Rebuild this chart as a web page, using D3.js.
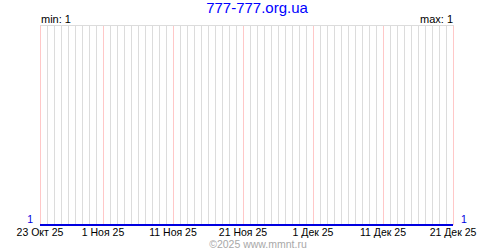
<!DOCTYPE html>
<html>
<head>
<meta charset="utf-8">
<script src="https://cdn.jsdelivr.net/npm/d3@7"></script>
<style>
  body { margin: 0; background: #fff; }
  svg { display: block; font-family: "Liberation Sans", Arial, sans-serif; }
</style>
</head>
<body>
<svg id="chart" width="500" height="250"></svg>
<script>
// period shown (one point a day)
const startDate = "2025-10-23";
const endDate = "2025-12-21";
const dayValues = [
  1, 1, 1, 1, 1, 1, 1, 1, 1, 1,
  1, 1, 1, 1, 1, 1, 1, 1, 1, 1,
  1, 1, 1, 1, 1, 1, 1, 1, 1, 1,
  1, 1, 1, 1, 1, 1, 1, 1, 1, 1,
  1, 1, 1, 1, 1, 1, 1, 1, 1, 1,
  1, 1, 1, 1, 1, 1, 1, 1, 1, 1
];
const tickDates = ["2025-10-23", "2025-11-01", "2025-11-11", "2025-11-21", "2025-12-01", "2025-12-11", "2025-12-21"];
const tickLabels = ["23 Окт 25", "1 Ноя 25", "11 Ноя 25", "21 Ноя 25", "1 Дек 25", "11 Дек 25", "21 Дек 25"];
const titleText = "777-777.org.ua";
const footerText = "©2025 www.mmnt.ru";

const parse = d3.utcParse("%Y-%m-%d");
const days = d3.utcDay.range(parse(startDate), d3.utcDay.offset(parse(endDate), 1));
const data = days.map((d, i) => ({ date: d, value: dayValues[i] }));

const plotLeft = 40, plotRight = 453, plotTop = 25, plotBottom = 225;

const svg = d3.select("#chart");

const x = d3.scaleUtc()
  .domain([parse(startDate), parse(endDate)])
  .range([plotLeft, plotRight]);

const minV = d3.min(dayValues), maxV = d3.max(dayValues);
// all values equal -> line sits on the bottom edge
const y = d3.scaleLinear()
  .domain(minV === maxV ? [minV, minV + 1] : [minV, maxV])
  .range([plotBottom, plotTop]);

// daily grid, pink on 1/11/21 and the first day
const isMark = d => [1, 11, 21].includes(d.getUTCDate()) || +d === +parse(startDate);
svg.append("g")
  .selectAll("line")
  .data(days)
  .join("line")
  .attr("x1", d => Math.round(x(d)) + 0.5)
  .attr("x2", d => Math.round(x(d)) + 0.5)
  .attr("y1", plotTop)
  .attr("y2", plotBottom)
  .attr("stroke", d => isMark(d) ? "#ffc8c8" : "#dcdcdc")
  .attr("stroke-width", 1);

// top border
svg.append("line")
  .attr("x1", plotLeft).attr("x2", plotRight + 1)
  .attr("y1", plotTop + 0.5).attr("y2", plotTop + 0.5)
  .attr("stroke", "#dcdcdc");

// value line
const line = d3.line()
  .x(d => Math.round(x(d.date)))
  .y(d => Math.round(y(d.value)));

svg.append("path")
  .datum(data)
  .attr("fill", "none")
  .attr("stroke", "#0000e0")
  .attr("stroke-width", 2)
  .attr("d", line);

// x labels
svg.append("g")
  .selectAll("text")
  .data(tickDates)
  .join("text")
  .attr("x", d => x(parse(d)))
  .attr("y", 236)
  .attr("text-anchor", "middle")
  .attr("font-size", 10.5)
  .attr("fill", "#000")
  .text((d, i) => tickLabels[i]);

// y labels both sides
svg.append("text")
  .attr("x", 33).attr("y", 223)
  .attr("text-anchor", "end")
  .attr("font-size", 10.5)
  .attr("fill", "#0000e0")
  .text(minV);
svg.append("text")
  .attr("x", 461).attr("y", 223)
  .attr("font-size", 10.5)
  .attr("fill", "#0000e0")
  .text(minV);

// min / max
svg.append("text")
  .attr("x", plotLeft + 1).attr("y", 23)
  .attr("font-size", 11)
  .text("min: " + minV);
svg.append("text")
  .attr("x", plotRight).attr("y", 23)
  .attr("text-anchor", "end")
  .attr("font-size", 11)
  .text("max: " + maxV);

// title & footer
svg.append("text")
  .attr("x", 257).attr("y", 13)
  .attr("text-anchor", "middle")
  .attr("font-size", 15)
  .attr("fill", "#0000ff")
  .text(titleText);
svg.append("text")
  .attr("x", 258).attr("y", 248)
  .attr("text-anchor", "middle")
  .attr("font-size", 10.5)
  .attr("fill", "#a8a8a8")
  .text(footerText);
</script>
</body>
</html>
